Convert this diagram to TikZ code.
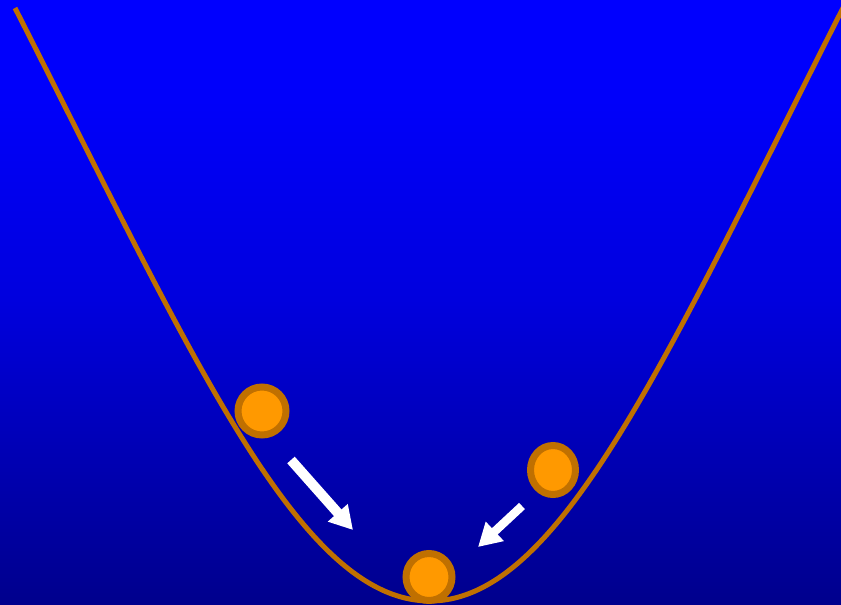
\documentclass[tikz,border=0pt]{standalone}
\usetikzlibrary{arrows.meta,shapes.geometric}
\pgfdeclareverticalshading{bgshade}{100bp}{rgb(0bp)=(0,0,0.55); rgb(25bp)=(0,0,0.55); rgb(37.8bp)=(0,0,0.71); rgb(50.2bp)=(0,0,0.87); rgb(66.7bp)=(0,0,0.98); rgb(75bp)=(0,0,1); rgb(100bp)=(0,0,1)}
\definecolor{curvebrown}{RGB}{192,112,0}
\definecolor{ballorange}{RGB}{255,153,0}
\begin{document}
\begin{tikzpicture}[x=1pt,y=-1pt,
  curve/.style={draw=curvebrown,line width=5pt,line join=round},
  ball/.style={ellipse,draw=curvebrown,fill=ballorange,line width=7pt,inner sep=0pt,outer sep=0pt},
  movearrow/.style={draw=white,line cap=butt,-{Triangle[length=23pt,width=25pt]}}]
\shade[shading=bgshade] (0,0) rectangle (841,605);
\useasboundingbox (0,0) rectangle (841,605);
\coordinate (cl) at (15,8);
\coordinate (cb) at (430,601);
\coordinate (cr) at (846,2);
\draw[curve] (cl) .. controls (195,361) and (300,601) .. (cb)
                  .. controls (560,601) and (666,357) .. (cr);
\node[ball,minimum width=48pt,minimum height=48pt] (b1) at (262,411) {};
\node[ball,minimum width=45pt,minimum height=49pt] (b2) at (553,470) {};
\node[ball,minimum width=46pt,minimum height=47pt] (b3) at (429,577) {};
\coordinate (a1s) at (291,460);
\coordinate (a1e) at (353,530);
\coordinate (a2s) at (522,506);
\coordinate (a2e) at (478,547);
\draw[movearrow,line width=10pt] (a1s) -- (a1e);
\draw[movearrow,line width=8.5pt] (a2s) -- (a2e);
\end{tikzpicture}
\end{document}
